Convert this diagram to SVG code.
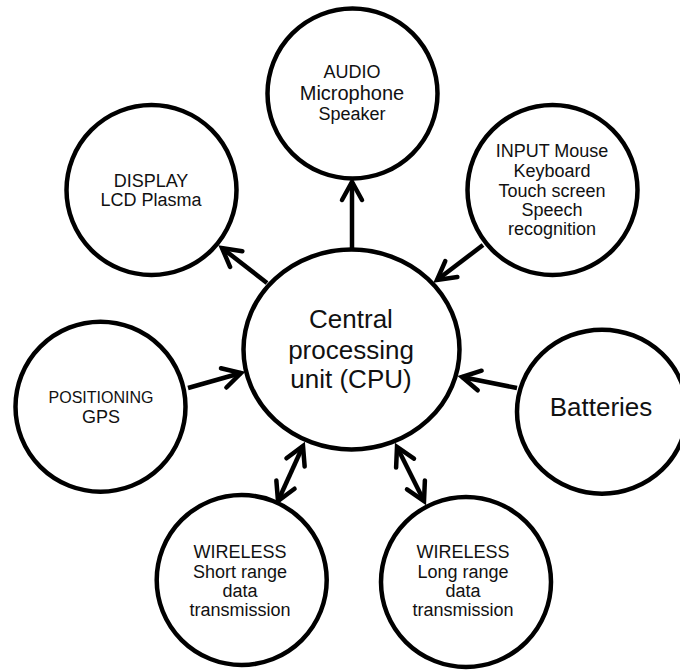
<svg xmlns="http://www.w3.org/2000/svg" width="680" height="670" viewBox="0 0 680 670">
  <defs>
    <style>
      .node { fill: #ffffff; stroke: #000000; stroke-width: 4.5; }
      .label { font-family: "Liberation Sans", Arial, Helvetica, sans-serif; font-size: 18px; fill: #111111; text-anchor: middle; }
      .big { font-size: 26px; }
      .link { fill: none; stroke: #000000; stroke-width: 4.5; }
      .head { fill: none; stroke: #000000; stroke-width: 4.5; stroke-linecap: round; stroke-linejoin: miter; }
    </style>
    <!-- open chevron arrowhead, tip at the path vertex -->
    <marker id="chevron" markerUnits="userSpaceOnUse" orient="auto-start-reverse" overflow="visible" refX="0" refY="0" markerWidth="1" markerHeight="1">
      <path class="head" d="M-18,-10 L0,0 L-18,10"/>
    </marker>
  </defs>

  <rect width="680" height="670" fill="#ffffff"/>

  <!-- connectors -->
  <g id="connectors">
    <line class="link" x1="352" y1="250" x2="352" y2="182" marker-end="url(#chevron)"/>
    <line class="link" x1="267" y1="283" x2="222" y2="248" marker-end="url(#chevron)"/>
    <line class="link" x1="483" y1="245" x2="437" y2="280" marker-end="url(#chevron)"/>
    <line class="link" x1="188" y1="388" x2="241" y2="373" marker-end="url(#chevron)"/>
    <line class="link" x1="517" y1="388" x2="462" y2="377" marker-end="url(#chevron)"/>
    <line class="link" x1="303" y1="446" x2="278" y2="501" marker-start="url(#chevron)" marker-end="url(#chevron)"/>
    <line class="link" x1="397" y1="447" x2="424" y2="501" marker-start="url(#chevron)" marker-end="url(#chevron)"/>
  </g>

  <g id="audio">
    <circle class="node" cx="352.5" cy="93.5" r="85"/>
    <text class="label" x="352" y="78">AUDIO</text>
    <text class="label" x="352" y="100" style="font-size:20px">Microphone</text>
    <text class="label" x="352" y="120">Speaker</text>
  </g>

  <g id="display">
    <circle class="node" cx="151.5" cy="190" r="85"/>
    <text class="label" x="151" y="187">DISPLAY</text>
    <text class="label" x="151" y="206">LCD Plasma</text>
  </g>

  <g id="input">
    <circle class="node" cx="552.5" cy="190" r="85"/>
    <text class="label" x="552" y="157">INPUT Mouse</text>
    <text class="label" x="552" y="177">Keyboard</text>
    <text class="label" x="552" y="196.5">Touch screen</text>
    <text class="label" x="552" y="215.5">Speech</text>
    <text class="label" x="552" y="235">recognition</text>
  </g>

  <g id="cpu">
    <ellipse class="node" cx="351.5" cy="349.5" rx="108" ry="100"/>
    <text class="label big" x="351" y="328">Central</text>
    <text class="label big" x="351" y="359">processing</text>
    <text class="label big" x="351" y="388">unit (CPU)</text>
  </g>

  <g id="positioning">
    <circle class="node" cx="100.5" cy="406.7" r="85"/>
    <text class="label" x="101" y="403" style="font-size:16px">POSITIONING</text>
    <text class="label" x="101" y="423">GPS</text>
  </g>

  <g id="batteries">
    <ellipse class="node" cx="602" cy="411.7" rx="85" ry="82"/>
    <text class="label big" x="601" y="416">Batteries</text>
  </g>

  <g id="wireless-short">
    <circle class="node" cx="241.7" cy="580" r="85"/>
    <text class="label" x="240" y="558">WIRELESS</text>
    <text class="label" x="240" y="578">Short range</text>
    <text class="label" x="240" y="597">data</text>
    <text class="label" x="240" y="616">transmission</text>
  </g>

  <g id="wireless-long">
    <circle class="node" cx="466" cy="582" r="85"/>
    <text class="label" x="463" y="558">WIRELESS</text>
    <text class="label" x="463" y="578">Long range</text>
    <text class="label" x="463" y="597">data</text>
    <text class="label" x="463" y="616">transmission</text>
  </g>
</svg>
